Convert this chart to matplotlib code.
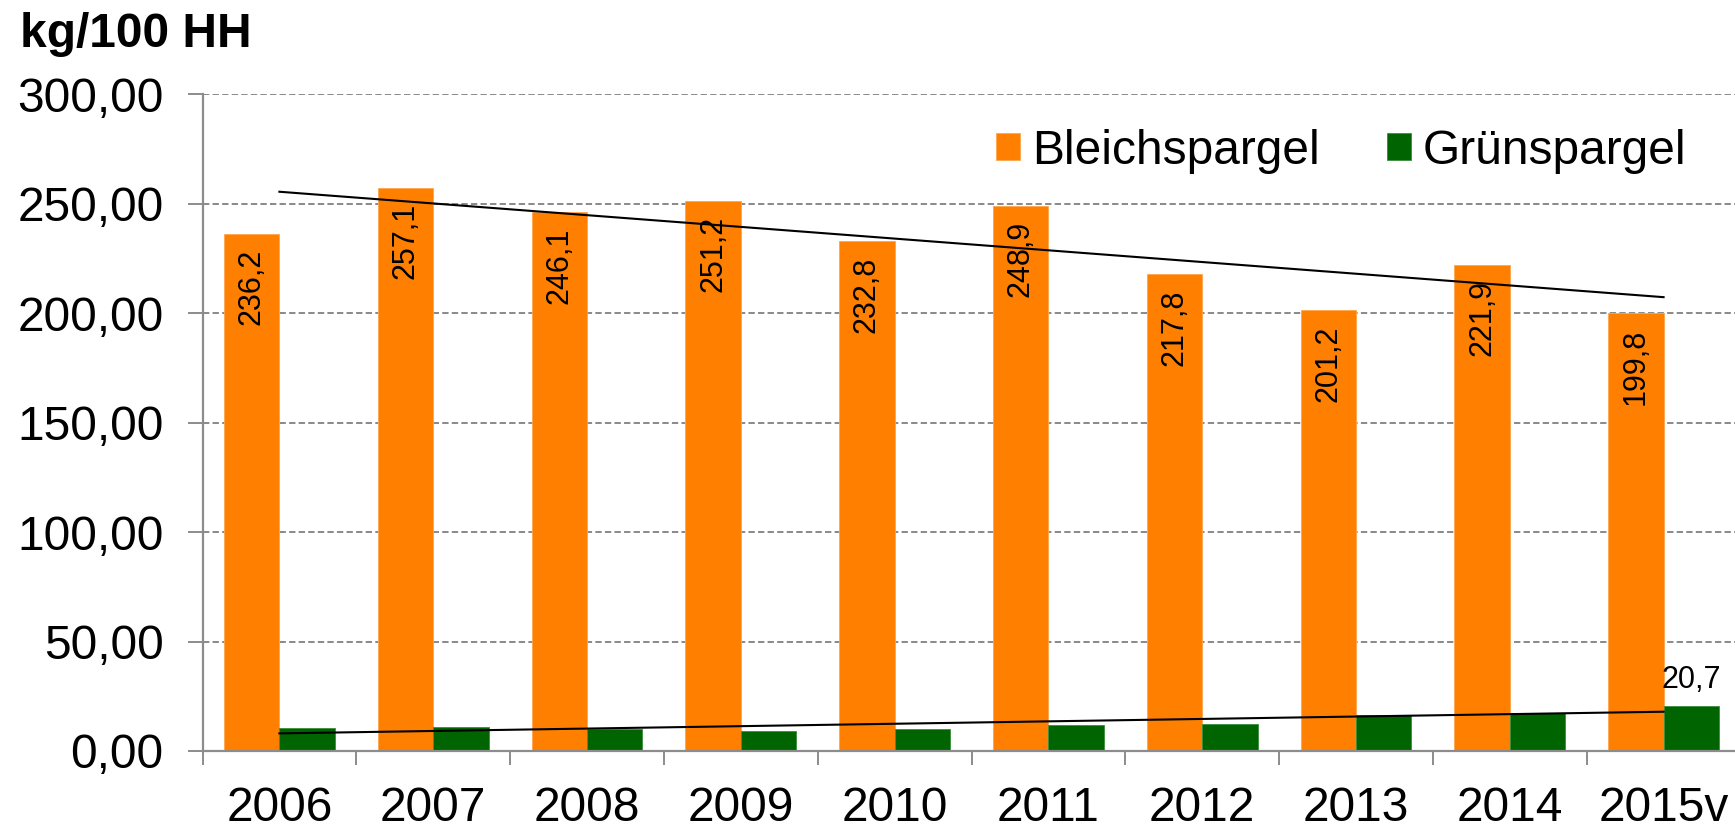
import numpy as np
import matplotlib
matplotlib.use("Agg")
import matplotlib.pyplot as plt
from matplotlib.ticker import FixedLocator, FuncFormatter

plt.rcParams['font.family'] = ['Liberation Sans', 'DejaVu Sans']

years = ["2006", "2007", "2008", "2009", "2010", "2011", "2012", "2013", "2014", "2015v"]
bleich = [236.2, 257.1, 246.1, 251.2, 232.8, 248.9, 217.8, 201.2, 221.9, 199.8]
gruen = [10.6, 10.9, 9.9, 9.2, 10.1, 12.1, 12.5, 16.5, 17.4, 20.7]
yticks = [0, 50, 100, 150, 200, 250, 300]

ORANGE = "#FF7F00"
GREEN = "#006400"
GRAY = "#8C8C8C"

W, H = 1735, 830
fig = plt.figure(figsize=(W / 100, H / 100), dpi=100)
ax = fig.add_axes([202.5 / W, 1 - 751 / H, 1538 / W, 657 / H])

x = np.arange(len(years))
bw = 0.36
ax.bar(x - bw / 2, bleich, width=bw, color=ORANGE, edgecolor="#FFA64D", linewidth=0.6,
       label="Bleichspargel", zorder=3)
ax.bar(x + bw / 2, gruen, width=bw, color=GREEN, edgecolor="#3C8C3C", linewidth=0.6,
       label="Grünspargel", zorder=3)

# trend lines (linear fit)
for vals in (bleich, gruen):
    k, d = np.polyfit(x, vals, 1)
    ax.plot([x[0], x[-1]], [d + k * x[0], d + k * x[-1]], color="black", lw=1.5, zorder=4)

# value labels
fmt = lambda v: f"{v:.1f}".replace(".", ",")
for xi, v in zip(x, bleich):
    ax.annotate(fmt(v), (xi - bw / 2, v), xytext=(0, -11), textcoords="offset points",
                rotation=90, ha="center", va="top", fontsize=22, zorder=5)
ax.annotate(fmt(gruen[-1]), (x[-1] + bw / 2, gruen[-1]), xytext=(0, 8),
            textcoords="offset points", ha="center", va="bottom", fontsize=22, zorder=5)

ax.set_xlim(-0.5, 9.5)
ax.set_ylim(0, 300)

ax.set_yticks(yticks)
ax.yaxis.set_major_formatter(FuncFormatter(lambda v, p: f"{v:.2f}".replace(".", ",")))
ax.grid(axis="y", color="#808080", linestyle=(0, (3.5, 1.8)), linewidth=1.3, zorder=0)

ax.xaxis.set_major_locator(FixedLocator(np.arange(-0.5, 10, 1)))
ax.xaxis.set_major_formatter(FuncFormatter(lambda v, p: ""))
ax.xaxis.set_minor_locator(FixedLocator(x))
ax.set_xticklabels(years, minor=True)
ax.tick_params(axis="x", which="major", length=10, width=1.4, color=GRAY, direction="out")
ax.tick_params(axis="x", which="minor", length=0, pad=25, labelsize=34.5)
ax.tick_params(axis="y", which="major", length=11, width=1.4, color=GRAY, pad=17, labelsize=34.5)

for s in ("top", "right"):
    ax.spines[s].set_visible(False)
for s in ("left", "bottom"):
    ax.spines[s].set_color(GRAY)
    ax.spines[s].set_linewidth(1.6)
ax.spines["bottom"].set_zorder(6)

fig.text(20 / W, 1 - 47 / H, "kg/100 HH", fontsize=34.5, fontweight="bold", va="baseline", ha="left")

fig.legend(loc="center left", bbox_to_anchor=(996 / W, 1 - 151 / H), ncol=2, frameon=False,
           fontsize=34.5, handlelength=0.5, handleheight=0.5, handletextpad=0.25,
           columnspacing=1.4, borderpad=0, borderaxespad=0)

fig.savefig("out.png", dpi=100)
